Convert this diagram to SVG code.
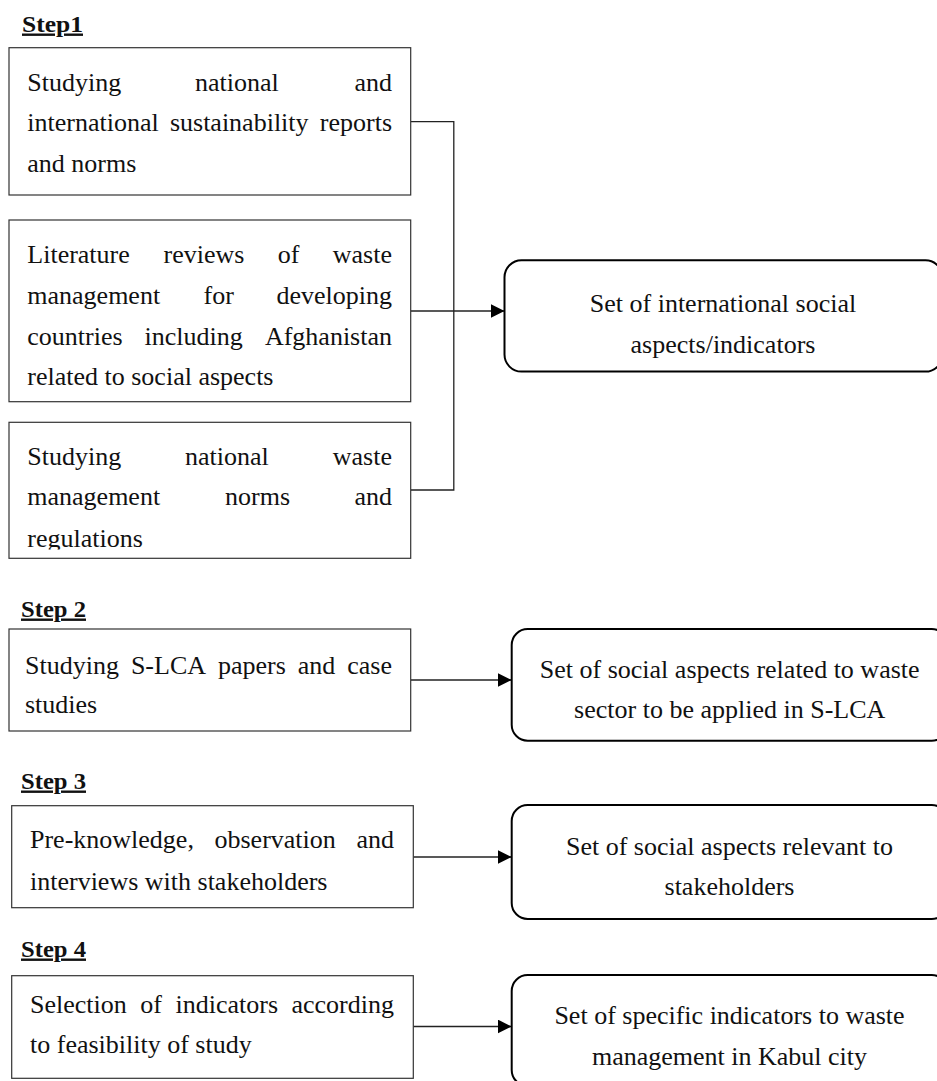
<svg xmlns="http://www.w3.org/2000/svg" width="937" height="1081" viewBox="0 0 937 1081">
<style>
.lbl{font-family:"Liberation Serif","Times New Roman",serif;font-weight:bold;font-size:24px;fill:#111;text-decoration:underline}
.t{font-family:"Liberation Serif","Times New Roman",serif;font-size:26px;fill:#111}
.c{text-anchor:middle}
.e{text-anchor:end}
.box{fill:#fff;stroke:#333;stroke-width:1.2}
.rbox{fill:#fff;stroke:#000;stroke-width:2}
.ln{fill:none;stroke:#222;stroke-width:1.3}
</style>
<defs>
<marker id="arr" viewBox="0 0 14 14" refX="14" refY="7" markerWidth="14" markerHeight="14" markerUnits="userSpaceOnUse" orient="auto">
<path d="M0,0 L14,7 L0,14 Z" fill="#000"/>
</marker>
<clipPath id="clip3"><rect x="9" y="422" width="402" height="127.5"/></clipPath>
</defs>
<rect width="937" height="1081" fill="#fff"/>

<g id="labels">
<text class="lbl" x="22" y="31.5" textLength="61" lengthAdjust="spacingAndGlyphs">Step1</text>
<text class="lbl" x="21" y="616.5" textLength="65" lengthAdjust="spacingAndGlyphs">Step 2</text>
<text class="lbl" x="21" y="788.5" textLength="65" lengthAdjust="spacingAndGlyphs">Step 3</text>
<text class="lbl" x="21" y="956.5" textLength="65" lengthAdjust="spacingAndGlyphs">Step 4</text>
</g>

<g id="connectors">
<path class="ln" d="M410.7,121.7 H453.8 V490 H410.7"/>
<path class="ln" d="M410.7,311 H504.5" marker-end="url(#arr)"/>
<path class="ln" d="M410.7,680 H511.7" marker-end="url(#arr)"/>
<path class="ln" d="M413.3,857 H511.7" marker-end="url(#arr)"/>
<path class="ln" d="M413.3,1026.5 H511.7" marker-end="url(#arr)"/>
</g>

<g id="s1a">
<rect class="box" x="9" y="47.7" width="401.7" height="147.3"/>
<text class="t" x="27.3" y="91">Studying</text>
<text class="t" x="195" y="91">national</text>
<text class="t e" x="392" y="91">and</text>
<text class="t" x="27.3" y="131">international</text>
<text class="t" x="169.9" y="131">sustainability</text>
<text class="t e" x="392" y="131">reports</text>
<text class="t" x="27.3" y="172">and norms</text>
</g>

<g id="s1b">
<rect class="box" x="9" y="220" width="401.7" height="181.7"/>
<text class="t" x="27.3" y="263">Literature</text>
<text class="t" x="163.5" y="263">reviews</text>
<text class="t" x="277.7" y="263">of</text>
<text class="t e" x="392" y="263">waste</text>
<text class="t" x="27.3" y="303.5">management</text>
<text class="t" x="203.5" y="303.5">for</text>
<text class="t e" x="392" y="303.5">developing</text>
<text class="t" x="27.3" y="345">countries</text>
<text class="t" x="144.6" y="345">including</text>
<text class="t e" x="392" y="345">Afghanistan</text>
<text class="t" x="27.3" y="385">related to social aspects</text>
</g>

<g id="s1c">
<rect class="box" x="9" y="422.3" width="401.7" height="136"/>
<g clip-path="url(#clip3)">
<text class="t" x="27.3" y="465">Studying</text>
<text class="t" x="185" y="465">national</text>
<text class="t e" x="392" y="465">waste</text>
<text class="t" x="27.3" y="505">management</text>
<text class="t" x="225" y="505">norms</text>
<text class="t e" x="392" y="505">and</text>
<text class="t" x="27.3" y="546.7">regulations</text>
</g>
</g>

<g id="s1out">
<rect class="rbox" x="504.5" y="260.3" width="438" height="111.3" rx="17" ry="17"/>
<text class="t c" x="723" y="311.6">Set of international social</text>
<text class="t c" x="723" y="352.7">aspects/indicators</text>
</g>

<g id="s2a">
<rect class="box" x="9" y="629" width="401.7" height="102"/>
<text class="t" x="25" y="674.3">Studying</text>
<text class="t" x="130.9" y="674.3">S-LCA</text>
<text class="t" x="217.9" y="674.3">papers</text>
<text class="t" x="297.7" y="674.3">and</text>
<text class="t e" x="392" y="674.3">case</text>
<text class="t" x="25" y="713.3">studies</text>
</g>

<g id="s2out">
<rect class="rbox" x="511.7" y="629" width="436" height="111.7" rx="16" ry="16"/>
<text class="t c" x="729.7" y="677.7">Set of social aspects related to waste</text>
<text class="t c" x="729.7" y="718.3">sector to be applied in S-LCA</text>
</g>

<g id="s3a">
<rect class="box" x="11.7" y="805.7" width="401.6" height="102"/>
<text class="t" x="30" y="847.7">Pre-knowledge,</text>
<text class="t" x="214.5" y="847.7">observation</text>
<text class="t e" x="394" y="847.7">and</text>
<text class="t" x="30" y="890">interviews with stakeholders</text>
</g>

<g id="s3out">
<rect class="rbox" x="511.7" y="805" width="436" height="114" rx="16" ry="16"/>
<text class="t c" x="729.5" y="855">Set of social aspects relevant to</text>
<text class="t c" x="729.5" y="895">stakeholders</text>
</g>

<g id="s4a">
<rect class="box" x="11.7" y="975.7" width="401.6" height="102.6"/>
<text class="t" x="30" y="1013.3">Selection</text>
<text class="t" x="140.3" y="1013.3">of</text>
<text class="t" x="175.5" y="1013.3">indicators</text>
<text class="t e" x="394" y="1013.3">according</text>
<text class="t" x="30" y="1053.3">to feasibility of study</text>
</g>

<g id="s4out">
<rect class="rbox" x="511.7" y="975" width="436" height="111" rx="16" ry="16"/>
<text class="t c" x="729.5" y="1024">Set of specific indicators to waste</text>
<text class="t c" x="729.5" y="1065">management in Kabul city</text>
</g>
</svg>
